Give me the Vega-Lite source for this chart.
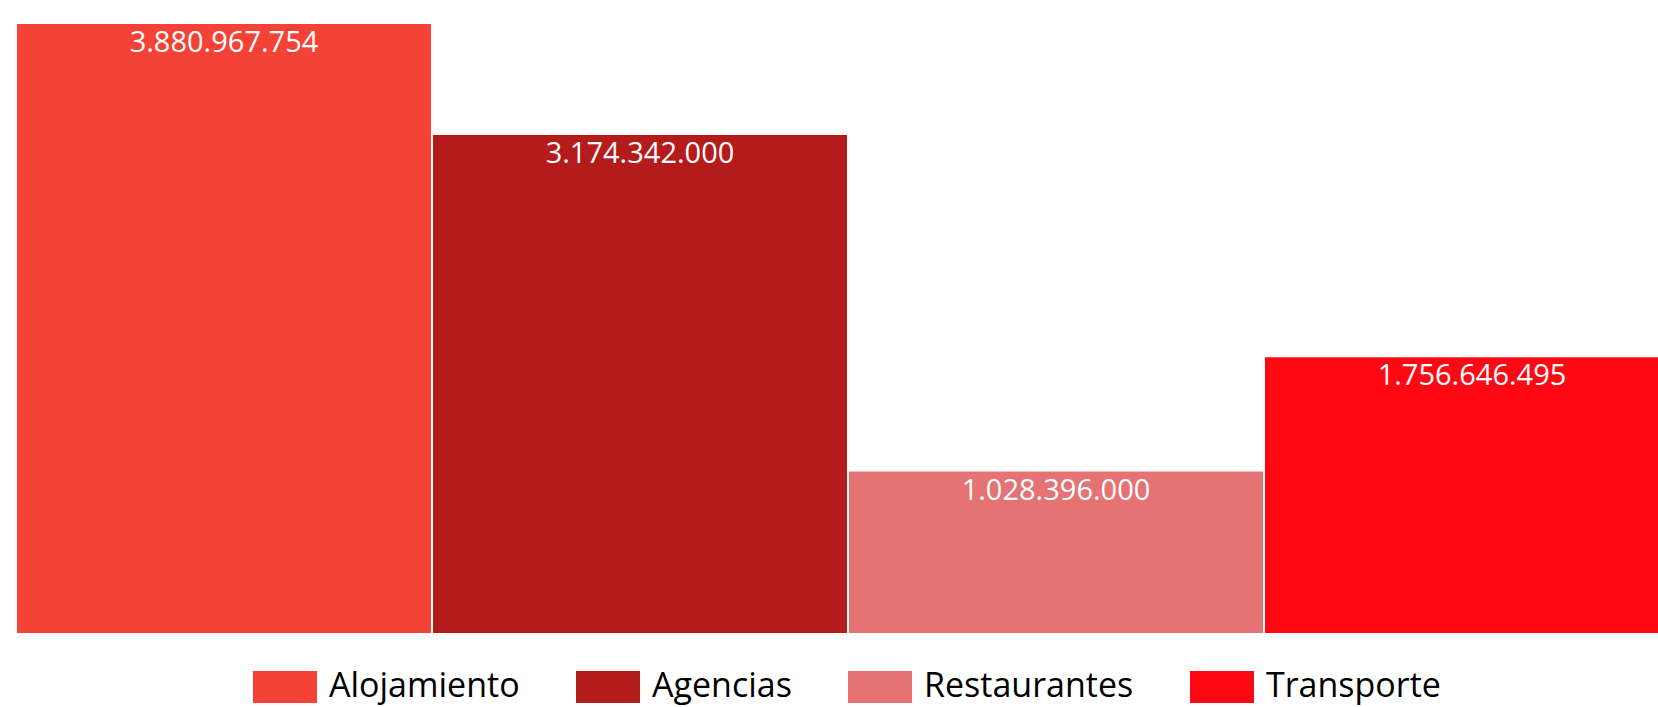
{
  "$schema": "https://vega.github.io/schema/vega-lite/v6.json",
  "width": 1662,
  "height": 609,
  "autosize": {"type": "none"},
  "padding": {"left": 17, "top": 24, "right": 0, "bottom": 74},
  "background": "white",
  "config": {
    "view": {"stroke": null},
    "locale": {"number": {"decimal": ",", "thousands": ".", "grouping": [3], "currency": ["", " €"]}},
    "font": "Open Sans"
  },
  "data": {
    "values": [
      {"sector": "Alojamiento", "valor": 3880967754},
      {"sector": "Agencias", "valor": 3174342000},
      {"sector": "Restaurantes", "valor": 1028396000},
      {"sector": "Transporte", "valor": 1756646495}
    ]
  },
  "encoding": {
    "x": {"field": "sector", "type": "nominal", "sort": null, "axis": null,
          "scale": {"paddingInner": 0.0048, "paddingOuter": 0}},
    "y": {"field": "valor", "type": "quantitative", "axis": null,
          "scale": {"domain": [0, 3880967754], "nice": false, "zero": true}}
  },
  "layer": [
    {
      "mark": {"type": "bar"},
      "encoding": {
        "color": {
          "field": "sector", "type": "nominal", "sort": null,
          "scale": {
            "domain": ["Alojamiento", "Agencias", "Restaurantes", "Transporte"],
            "range": ["#F44336", "#B51B1B", "#E57373", "#FF0814"]
          },
          "legend": {
            "orient": "none",
            "direction": "horizontal",
            "legendX": 236,
            "legendY": 631,
            "title": null,
            "symbolType": "M-1,-0.5H1V0.5H-1Z",
            "symbolSize": 4096,
            "symbolStrokeWidth": 0,
            "symbolOpacity": 1,
            "labelFontSize": 34,
            "labelFont": "Open Sans",
            "labelColor": "#000000",
            "labelOffset": 12,
            "columnPadding": 56,
            "labelLimit": 400
          }
        }
      }
    },
    {
      "mark": {"type": "text", "color": "white", "fontSize": 29, "baseline": "middle", "dy": 19, "font": "Open Sans"},
      "encoding": {
        "text": {"field": "valor", "type": "quantitative", "format": ",d"}
      }
    }
  ]
}
